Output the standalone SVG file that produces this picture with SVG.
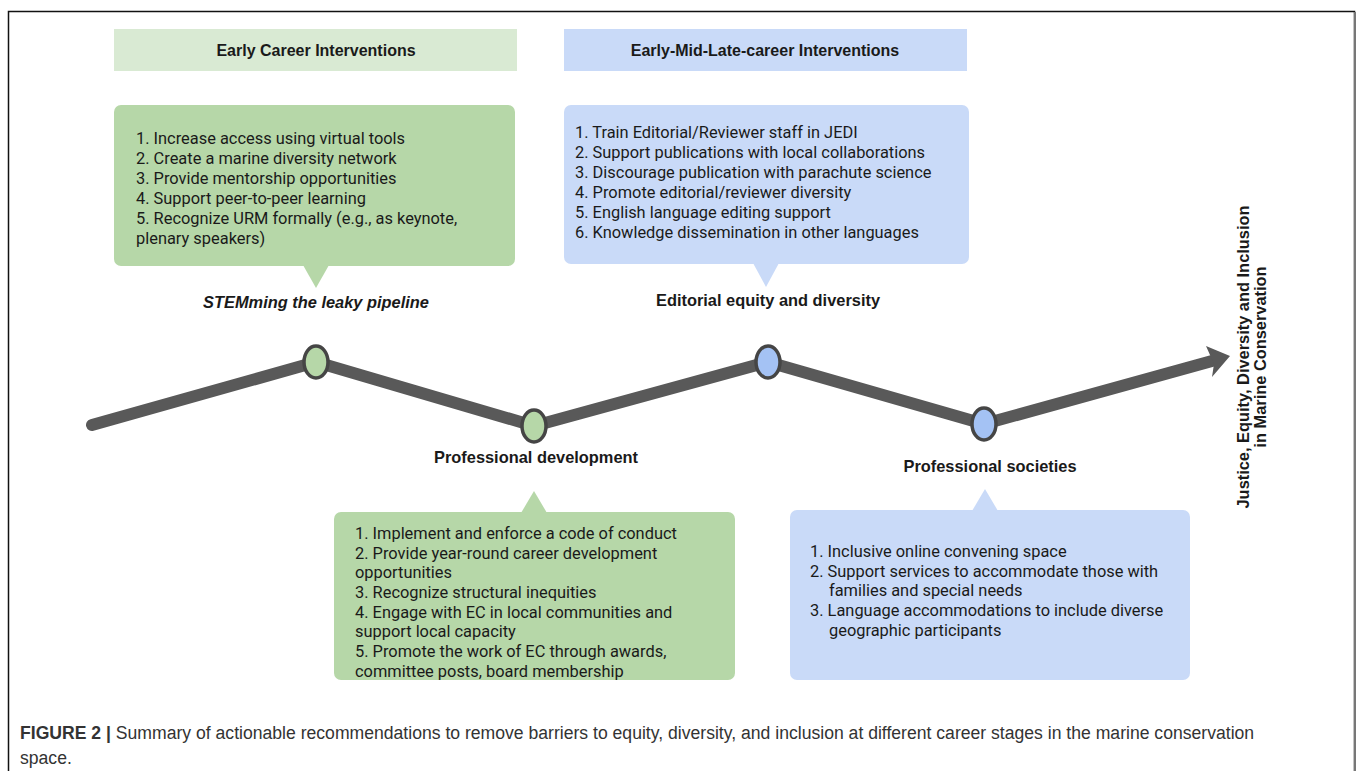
<svg xmlns="http://www.w3.org/2000/svg" width="1358" height="771" viewBox="0 0 1358 771">
<style>
.hdr{font-family:"Liberation Sans",Arial,sans-serif;font-weight:bold;font-size:16px;fill:#1a1a1a;text-anchor:middle}
.item{font-family:Roboto,"Liberation Sans",sans-serif;font-size:16.4px;fill:#1a1a1a}
.lbl{font-family:"Liberation Sans",Arial,sans-serif;font-weight:bold;font-size:16.4px;fill:#1a1a1a;text-anchor:middle}
.cap{font-family:"Liberation Sans",Arial,sans-serif;font-size:17.6px;fill:#333}
.g{fill:#b6d7a8}
.b{fill:#c9daf8}
.node{stroke:#454545;stroke-width:3.5}
</style>
<rect width="1358" height="771" fill="#fff"/>
<path d="M8.5 780 V11.5 H1354.5 V780" fill="none" stroke="#111" stroke-width="1.5"/>
<line x1="1355" y1="12" x2="1355" y2="780" stroke="#777" stroke-width="2"/>

<g id="hdr-early">
<rect x="114" y="29" width="403" height="42" fill="#d9ead3"/>
<text class="hdr" x="316" y="56">Early Career Interventions</text>
</g>
<g id="hdr-late">
<rect x="564" y="29" width="403" height="42" fill="#c9daf8"/>
<text class="hdr" x="765" y="56">Early-Mid-Late-career Interventions</text>
</g>

<g id="box-stem">
<rect class="g" x="114" y="105" width="401" height="161" rx="7"/>
<polygon class="g" points="303,265 329,265 316,288"/>
<text class="item" x="136" y="144">1. Increase access using virtual tools</text>
<text class="item" x="136" y="164">2. Create a marine diversity network</text>
<text class="item" x="136" y="184">3. Provide mentorship opportunities</text>
<text class="item" x="136" y="204">4. Support peer-to-peer learning</text>
<text class="item" x="136" y="224">5. Recognize URM formally (e.g., as keynote,</text>
<text class="item" x="136" y="244">plenary speakers)</text>
<text class="lbl" x="316" y="308" font-style="italic">STEMming the leaky pipeline</text>
</g>

<g id="box-editorial">
<rect class="b" x="564" y="105" width="405" height="159" rx="7"/>
<polygon class="b" points="753,263 779,263 766,287"/>
<text class="item" x="575" y="138">1. Train Editorial/Reviewer staff in JEDI</text>
<text class="item" x="575" y="158">2. Support publications with local collaborations</text>
<text class="item" x="575" y="178">3. Discourage publication with parachute science</text>
<text class="item" x="575" y="198">4. Promote editorial/reviewer diversity</text>
<text class="item" x="575" y="218">5. English language editing support</text>
<text class="item" x="575" y="238">6. Knowledge dissemination in other languages</text>
<text class="lbl" x="768" y="306">Editorial equity and diversity</text>
</g>

<g id="connectors">
<polyline points="92,425 316,362 534,426 768,362 984,424 1212,361" fill="none" stroke="#595959" stroke-width="12" stroke-linecap="round" stroke-linejoin="round"/>
<polygon points="1230,356 1206,346 1214,364 1212,377" fill="#595959"/>
</g>

<g id="node1"><ellipse class="node" cx="316" cy="362" rx="12" ry="16" fill="#b6d7a8"/></g>
<g id="node2"><ellipse class="node" cx="534" cy="426" rx="12" ry="16" fill="#b6d7a8"/></g>
<g id="node3"><ellipse class="node" cx="768" cy="362" rx="12" ry="16" fill="#a4c2f4"/></g>
<g id="node4"><ellipse class="node" cx="984" cy="424" rx="12" ry="16" fill="#a4c2f4"/></g>

<g id="box-profdev">
<text class="lbl" x="536" y="463">Professional development</text>
<polygon class="g" points="521,513 547,513 534,491"/>
<rect class="g" x="334" y="512" width="401" height="168" rx="7"/>
<text class="item" x="355" y="539">1. Implement and enforce a code of conduct</text>
<text class="item" x="355" y="559">2. Provide year-round career development</text>
<text class="item" x="355" y="578">opportunities</text>
<text class="item" x="355" y="598">3. Recognize structural inequities</text>
<text class="item" x="355" y="618">4. Engage with EC in local communities and</text>
<text class="item" x="355" y="637">support local capacity</text>
<text class="item" x="355" y="657">5. Promote the work of EC through awards,</text>
<text class="item" x="355" y="677">committee posts, board membership</text>
</g>

<g id="box-societies">
<text class="lbl" x="990" y="472">Professional societies</text>
<polygon class="b" points="972,511 998,511 985,489"/>
<rect class="b" x="790" y="510" width="400" height="170" rx="7"/>
<text class="item" x="810" y="557">1. Inclusive online convening space</text>
<text class="item" x="810" y="577">2. Support services to accommodate those with</text>
<text class="item" x="829" y="596">families and special needs</text>
<text class="item" x="810" y="616">3. Language accommodations to include diverse</text>
<text class="item" x="829" y="636">geographic participants</text>
</g>

<g id="goal">
<text class="lbl" transform="translate(1249,357) rotate(-90)" x="0" y="0">Justice, Equity, Diversity and Inclusion</text>
<text class="lbl" transform="translate(1266,357) rotate(-90)" x="0" y="0">in Marine Conservation</text>
</g>

<g id="caption">
<text class="cap" x="20" y="739"><tspan font-weight="bold">FIGURE 2 |</tspan> Summary of actionable recommendations to remove barriers to equity, diversity, and inclusion at different career stages in the marine conservation</text>
<text class="cap" x="20" y="764">space.</text>
</g>
</svg>
